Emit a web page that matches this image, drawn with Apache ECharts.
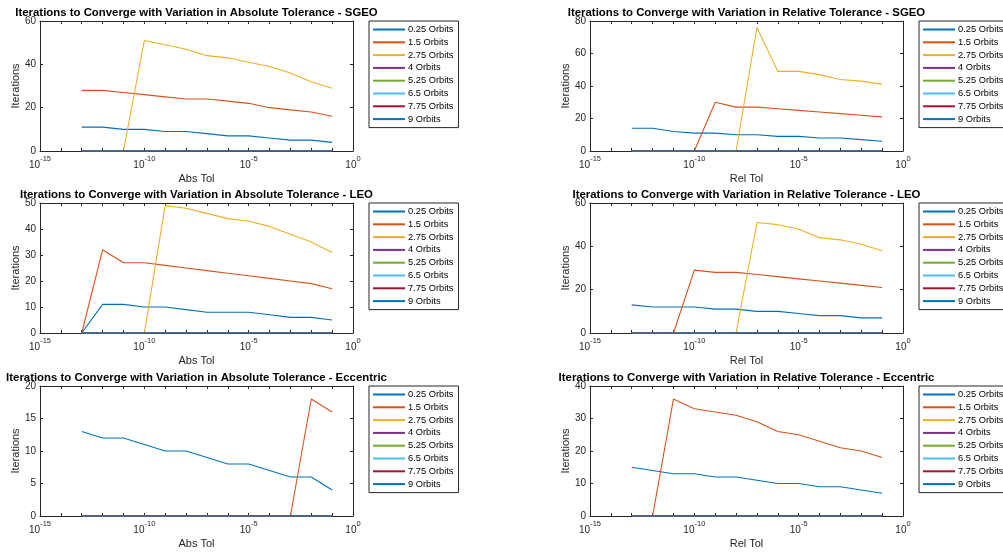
<!DOCTYPE html>
<html>
<head>
<meta charset="utf-8">
<script src="https://cdn.jsdelivr.net/npm/echarts@6/dist/echarts.min.js"></script>
<style>
  html, body { margin: 0; padding: 0; background: #fff; }
  #chart { width: 1003px; height: 552px; }
</style>
</head>
<body>
<div id="chart"></div>
<script>
// tolerances used on the x axis (log scale)
var tolerances = [1e-13, 1e-12, 1e-11, 1e-10, 1e-9, 1e-8, 1e-7, 1e-6, 1e-5, 1e-4, 1e-3, 1e-2, 1e-1];
var orbitNames = ['0.25 Orbits', '1.5 Orbits', '2.75 Orbits', '4 Orbits', '5.25 Orbits', '6.5 Orbits', '7.75 Orbits', '9 Orbits'];
var zeros = [0, 0, 0, 0, 0, 0, 0, 0, 0, 0, 0, 0, 0];

// SGEO
var sgeoAbs025 = [11, 11, 10, 10, 9, 9, 8, 7, 7, 6, 5, 5, 4];
var sgeoAbs150 = [28, 28, 27, 26, 25, 24, 24, 23, 22, 20, 19, 18, 16];
var sgeoAbs275 = [0, 0, 0, 51, 49, 47, 44, 43, 41, 39, 36, 32, 29];
var sgeoRel025 = [14, 14, 12, 11, 11, 10, 10, 9, 9, 8, 8, 7, 6];
var sgeoRel150 = [0, 0, 0, 0, 30, 27, 27, 26, 25, 24, 23, 22, 21];
var sgeoRel275 = [0, 0, 0, 0, 0, 0, 76, 49, 49, 47, 44, 43, 41];

// LEO
var leoAbs025 = [0, 11, 11, 10, 10, 9, 8, 8, 8, 7, 6, 6, 5];
var leoAbs150 = [0, 32, 27, 27, 26, 25, 24, 23, 22, 21, 20, 19, 17];
var leoAbs275 = [0, 0, 0, 0, 49, 48, 46, 44, 43, 41, 38, 35, 31];
var leoRel025 = [13, 12, 12, 12, 11, 11, 10, 10, 9, 8, 8, 7, 7];
var leoRel150 = [0, 0, 0, 29, 28, 28, 27, 26, 25, 24, 23, 22, 21];
var leoRel275 = [0, 0, 0, 0, 0, 0, 51, 50, 48, 44, 43, 41, 38];

// Eccentric
var eccAbs025 = [13, 12, 12, 11, 10, 10, 9, 8, 8, 7, 6, 6, 4];
var eccAbs150 = [0, 0, 0, 0, 0, 0, 0, 0, 0, 0, 0, 18, 16];
var eccRel025 = [15, 14, 13, 13, 12, 12, 11, 10, 10, 9, 9, 8, 7];
var eccRel150 = [0, 0, 36, 33, 32, 31, 29, 26, 25, 23, 21, 20, 18];

var panels = [
  { title: 'Iterations to Converge with Variation in Absolute Tolerance - SGEO', xName: 'Abs Tol', yMax: 60, yStep: 20,
    lines: [sgeoAbs025, sgeoAbs150, sgeoAbs275, zeros, zeros, zeros, zeros, zeros] },
  { title: 'Iterations to Converge with Variation in Relative Tolerance - SGEO', xName: 'Rel Tol', yMax: 80, yStep: 20,
    lines: [sgeoRel025, sgeoRel150, sgeoRel275, zeros, zeros, zeros, zeros, zeros] },
  { title: 'Iterations to Converge with Variation in Absolute Tolerance - LEO', xName: 'Abs Tol', yMax: 50, yStep: 10,
    lines: [leoAbs025, leoAbs150, leoAbs275, zeros, zeros, zeros, zeros, zeros] },
  { title: 'Iterations to Converge with Variation in Relative Tolerance - LEO', xName: 'Rel Tol', yMax: 60, yStep: 20,
    lines: [leoRel025, leoRel150, leoRel275, zeros, zeros, zeros, zeros, zeros] },
  { title: 'Iterations to Converge with Variation in Absolute Tolerance - Eccentric', xName: 'Abs Tol', yMax: 20, yStep: 5,
    lines: [eccAbs025, eccAbs150, zeros, zeros, zeros, zeros, zeros, zeros] },
  { title: 'Iterations to Converge with Variation in Relative Tolerance - Eccentric', xName: 'Rel Tol', yMax: 40, yStep: 10,
    lines: [eccRel025, eccRel150, zeros, zeros, zeros, zeros, zeros, zeros] }
];

// matlab default line colours
var colors = ['#0072BD', '#D95319', '#EDB120', '#7E2F8E', '#77AC30', '#4DBEEE', '#A2142F', '#0072BD'];
var axisColor = '#262626';
var font = '"Liberation Sans", Helvetica, Arial, sans-serif';

var gridPos = [[40, 21], [590, 21], [40, 203], [590, 203], [40, 386], [590, 386]];
var gridW = 313, gridH = 130;

function tickLabel(v) {
  var e = Math.round(Math.log10(v));
  if (e % 5 !== 0) return '';
  return '{b|10}{sup|' + e + '}';
}

var option = {
  backgroundColor: '#fff',
  animation: false,
  textStyle: { fontFamily: font },
  title: [], grid: [], xAxis: [], yAxis: [], legend: [], series: []
};

panels.forEach(function (p, g) {
  var left = gridPos[g][0], top = gridPos[g][1];
  option.grid.push({ left: left, top: top, width: gridW, height: gridH, containLabel: false });
  option.title.push({
    text: p.title, left: left + gridW / 2, top: top - 14, textAlign: 'center', padding: 0,
    textStyle: { fontFamily: font, fontSize: 11.4, fontWeight: 'bold', color: '#000' }
  });
  var tick = { show: true, inside: true, length: 3, lineStyle: { color: axisColor, width: 1 } };
  var line = { show: true, onZero: false, lineStyle: { color: axisColor, width: 1 } };
  option.xAxis.push({
    gridIndex: g, type: 'log', logBase: 10, min: 1e-15, max: 1, interval: 1, position: 'bottom',
    name: p.xName, nameLocation: 'middle', nameGap: 22,
    nameTextStyle: { fontFamily: font, fontSize: 11, color: axisColor },
    axisLine: line, axisTick: tick, splitLine: { show: false },
    axisLabel: {
      formatter: tickLabel, margin: 4, color: axisColor, fontFamily: font,
      rich: {
        b: { fontSize: 10, fontFamily: font, color: axisColor, verticalAlign: 'bottom' },
        sup: { fontSize: 7.5, fontFamily: font, color: axisColor, verticalAlign: 'top', padding: [0, 0, 7, 0] }
      }
    }
  });
  option.xAxis.push({
    gridIndex: g, type: 'log', logBase: 10, min: 1e-15, max: 1, interval: 1, position: 'top',
    axisLine: line, axisTick: tick, axisLabel: { show: false }, splitLine: { show: false }
  });
  option.yAxis.push({
    gridIndex: g, type: 'value', min: 0, max: p.yMax, interval: p.yStep, position: 'left',
    name: 'Iterations', nameLocation: 'middle', nameGap: 18,
    nameTextStyle: { fontFamily: font, fontSize: 11, color: axisColor },
    axisLine: line, axisTick: tick, splitLine: { show: false },
    axisLabel: { margin: 4, fontSize: 10, color: axisColor, fontFamily: font }
  });
  option.yAxis.push({
    gridIndex: g, type: 'value', min: 0, max: p.yMax, interval: p.yStep, position: 'right',
    axisLine: line, axisTick: tick, axisLabel: { show: false }, splitLine: { show: false }
  });
  option.legend.push({
    orient: 'vertical', left: left + 329, top: top, data: orbitNames,
    backgroundColor: '#fff', borderColor: axisColor, borderWidth: 1, borderRadius: 0,
    padding: [3, 5, 3, 3], itemWidth: 32, itemHeight: 10, itemGap: 1.8,
    itemStyle: { opacity: 0 },
    textStyle: { fontFamily: font, fontSize: 9.3, color: '#000', padding: [0, 0, 0, -2], lineHeight: 11 },
    selectedMode: false
  });
  p.lines.forEach(function (vals, i) {
    option.series.push({
      name: orbitNames[i], type: 'line', xAxisIndex: 2 * g, yAxisIndex: 2 * g,
      data: tolerances.map(function (t, k) { return [t, vals[k]]; }),
      symbol: 'none', showSymbol: false,
      lineStyle: { color: colors[i], width: 1.1 },
      itemStyle: { color: colors[i] },
      emphasis: { disabled: true }
    });
  });
});

var chart = echarts.init(document.getElementById('chart'));
chart.setOption(option);
</script>
</body>
</html>
